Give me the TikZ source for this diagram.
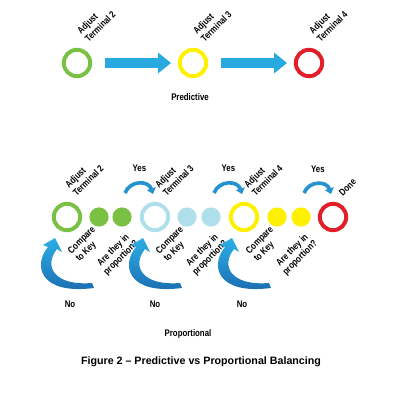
\documentclass[tikz,border=0pt]{standalone}
\usepackage{fontspec}
\setmainfont{Liberation Sans}
\newfontfamily\lblfont[FakeStretch=0.82]{Liberation Sans}
\usepackage{tikz}
\usetikzlibrary{arrows.meta,positioning,calc}
\usepackage{xcolor}
\definecolor{ringgreen}{RGB}{122,193,67}
\definecolor{ringyellow}{RGB}{255,240,0}
\definecolor{ringred}{RGB}{226,30,40}
\definecolor{ringblue}{RGB}{176,223,236}
\definecolor{arrowcyan}{RGB}{40,170,225}
\definecolor{swooshlight}{RGB}{45,175,228}
\definecolor{swooshdark}{RGB}{25,105,175}

\begin{document}
\begin{tikzpicture}[x=0.025cm, y=-0.025cm,
    ring/.style={circle, line width=2.8pt, minimum size=0.66cm, inner sep=0pt},
    dot/.style={circle, minimum size=0.48cm, inner sep=0pt},
    lbl/.style={font=\lblfont\bfseries\fontsize{6.8}{7.8}\selectfont, text=black, rotate=45, inner sep=0pt, align=left},
    txt/.style={font=\lblfont\bfseries\fontsize{6.8}{7.8}\selectfont, text=black, inner sep=0pt},
    bigarr/.style={arrowcyan, line width=7.1pt, -{Triangle[length=9.2pt, width=14.2pt]}},
    yesarr/.style={swooshlight!60!swooshdark, line width=2.6pt, -{Triangle[length=4pt, width=6.5pt]}},
    noarc/.pic={
      \shade[top color=swooshlight, bottom color=swooshdark]
        (-19,30) .. controls (-34,48) and (-28,78) .. (27,71)
        -- (25,66) .. controls (-12,69) and (-24,50) .. (-10,32)
        -- (-5,35) -- (-12,21) -- (-24,28) -- cycle;
    }]
  \useasboundingbox (0,0) rectangle (400,400);

  % Predictive
  \node[ring, draw=ringgreen] (p2) at (77,63) {};
  \node[ring, draw=ringyellow] (p3) at (193,63) {};
  \node[ring, draw=ringred] (p4) at (309,63) {};
  \draw[bigarr] ([xshift=0.32cm]p2.east) -- ([xshift=-0.17cm]p3.west);
  \draw[bigarr] ([xshift=0.32cm]p3.east) -- ([xshift=-0.17cm]p4.west);
  \node[lbl, anchor=south west] (p2lbl) at ($(p2)+(12,-20)$) {Adjust\\Terminal 2};
  \node[lbl, anchor=south west] (p3lbl) at ($(p3)+(12,-20)$) {Adjust\\Terminal 3};
  \node[lbl, anchor=south west] (p4lbl) at ($(p4)+(12,-20)$) {Adjust\\Terminal 4};
  \node[txt] (predictive) at (190,97) {Predictive};

  % Proportional
  \node[ring, draw=ringgreen] (q2) at (67,217) {};
  \node[dot, fill=ringgreen] (q2a) at (99,217) {};
  \node[dot, fill=ringgreen] (q2b) at (122,217) {};
  \node[ring, draw=ringblue] (q3) at (155,217) {};
  \node[dot, fill=ringblue] (q3a) at (187,217) {};
  \node[dot, fill=ringblue] (q3b) at (211,217) {};
  \node[ring, draw=ringyellow] (q4) at (244,217) {};
  \node[dot, fill=ringyellow] (q4a) at (277,217) {};
  \node[dot, fill=ringyellow] (q4b) at (301,217) {};
  \node[ring, draw=ringred] (qdone) at (333,217) {};

  \node[lbl, anchor=south west] (q2lbl) at ($(q2)+(10,-20)$) {Adjust\\Terminal 2};
  \node[lbl, anchor=south west] (q3lbl) at ($(q3)+(12,-20)$) {Adjust\\Terminal 3};
  \node[lbl, anchor=south west] (q4lbl) at ($(q4)+(12,-20)$) {Adjust\\Terminal 4};
  \node[lbl, anchor=south west] (donelbl) at ($(qdone)+(10,-20)$) {Done};

  \node[lbl, anchor=north east] (cmp2) at ($(q2a)+(-8,8)$) {Compare\\to Key};
  \node[lbl, anchor=north east, align=center] (prop2) at ($(q2b)+(4,14)$) {Are they in\\proportion?};
  \node[lbl, anchor=north east] (cmp3) at ($(q3a)+(-8,8)$) {Compare\\to Key};
  \node[lbl, anchor=north east, align=center] (prop3) at ($(q3b)+(4,14)$) {Are they in\\proportion?};
  \node[lbl, anchor=north east] (cmp4) at ($(q4a)+(-8,8)$) {Compare\\to Key};
  \node[lbl, anchor=north east, align=center] (prop4) at ($(q4b)+(4,14)$) {Are they in\\proportion?};

  % Yes arcs
  \draw[yesarr] ([shift={(3,-24)}]q2b.center) to[bend left=70, looseness=1.3]
    node[txt, midway, above=7pt] (yes2) {Yes} ([shift={(-2,-23)}]q3.center);
  \draw[yesarr] ([shift={(3,-24)}]q3b.center) to[bend left=70, looseness=1.3]
    node[txt, midway, above=7pt] (yes3) {Yes} ([shift={(-2,-23)}]q4.center);
  \draw[yesarr] ([shift={(3,-24)}]q4b.center) to[bend left=70, looseness=1.3]
    node[txt, midway, above=7pt] (yes4) {Yes} ([shift={(-2,-23)}]qdone.center);

  % No swooshes
  \pic at (q2) {noarc};
  \pic at (q3) {noarc};
  \pic at (q4) {noarc};
  \node[txt] (no2) at (70,304) {No};
  \node[txt] (no3) at (155,304) {No};
  \node[txt] (no4) at (242,304) {No};

  \node[txt] (proportional) at (188,334) {Proportional};
  \node[font=\bfseries\fontsize{7.6}{9}\selectfont, inner sep=0pt] (caption) at (201,362)
    {Figure 2 -- Predictive vs Proportional Balancing};
\end{tikzpicture}
\end{document}
